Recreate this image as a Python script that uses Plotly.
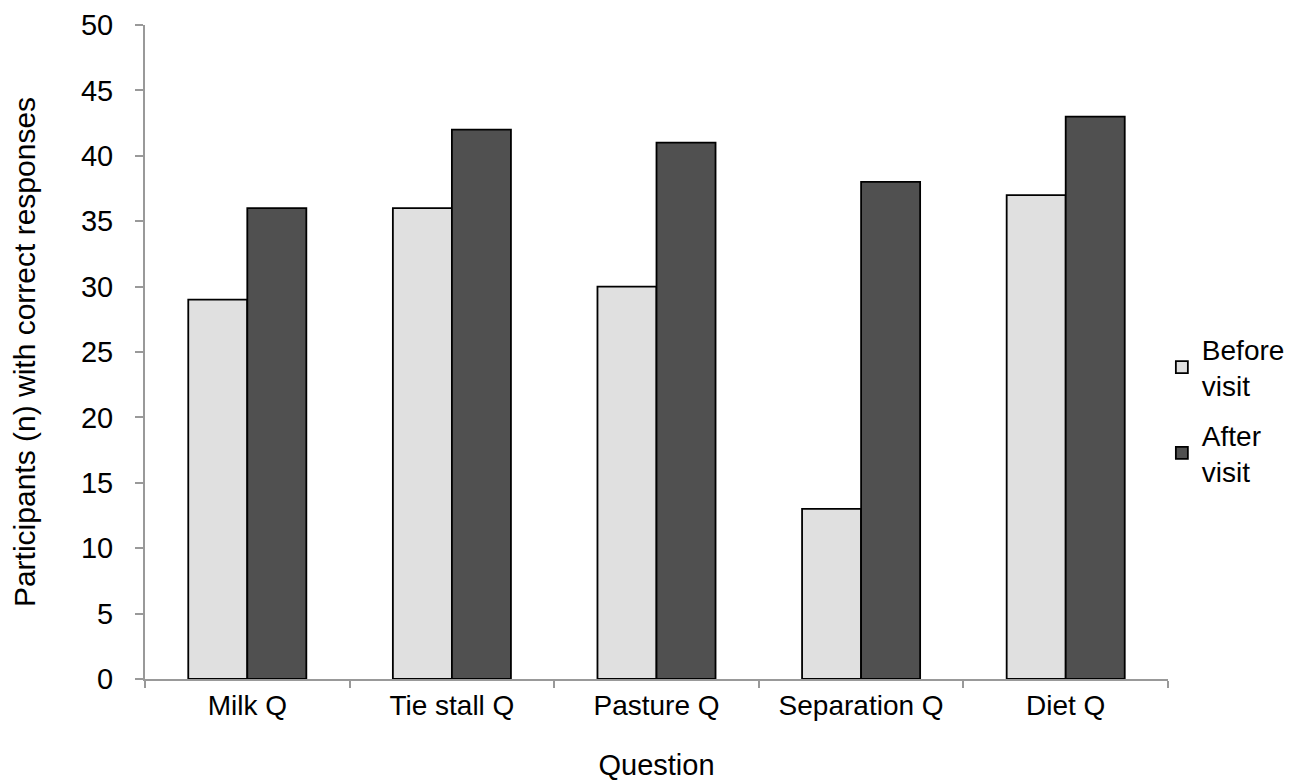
import plotly.graph_objects as go

categories = ["Milk Q", "Tie stall Q", "Pasture Q", "Separation Q", "Diet Q"]
before_visit = [29, 36, 30, 13, 37]
after_visit = [36, 42, 41, 38, 43]
y_ticks = list(range(0, 51, 5))

font_family = "Liberation Sans, Arial, sans-serif"

fig = go.Figure()
fig.add_trace(go.Bar(
    x=categories, y=before_visit, name="Before<br>visit", legendgroup="a",
    marker=dict(color="#e0e0e0", line=dict(color="#000000", width=1.8)),
))
fig.add_trace(go.Bar(
    x=categories, y=after_visit, name="After<br>visit", legendgroup="b",
    marker=dict(color="#505050", line=dict(color="#000000", width=1.8)),
))

fig.update_layout(
    width=1298, height=773,
    margin=dict(l=137, r=138, t=17, b=102, autoexpand=False),
    paper_bgcolor="white", plot_bgcolor="white",
    barmode="group", bargap=0.423, bargroupgap=0,
    font=dict(family=font_family, size=29, color="#000000"),
    showlegend=True,
    legend=dict(x=0.994, y=0.411, xanchor="left", yanchor="middle",
                font=dict(size=28), traceorder="grouped", tracegroupgap=10,
                itemwidth=30, bgcolor="rgba(0,0,0,0)"),
)
fig.update_xaxes(
    title=dict(text="Question", font=dict(size=29), standoff=36),
    showline=True, linecolor="#999999", linewidth=2,
    ticks="outside", tickson="boundaries", ticklen=7, tickcolor="#999999", tickwidth=2,
    showgrid=False, tickfont=dict(size=28), automargin=False,
)
fig.update_yaxes(
    title=dict(text="Participants (n) with correct responses", font=dict(size=30), standoff=40),
    range=[0, 50], tickvals=y_ticks,
    showline=True, linecolor="#999999", linewidth=2,
    ticks="outside", ticklen=8, tickcolor="#999999", tickwidth=2,
    ticklabelstandoff=16,
    showgrid=False, zeroline=False, tickfont=dict(size=29), automargin=False,
)

fig.write_html("out.html")
